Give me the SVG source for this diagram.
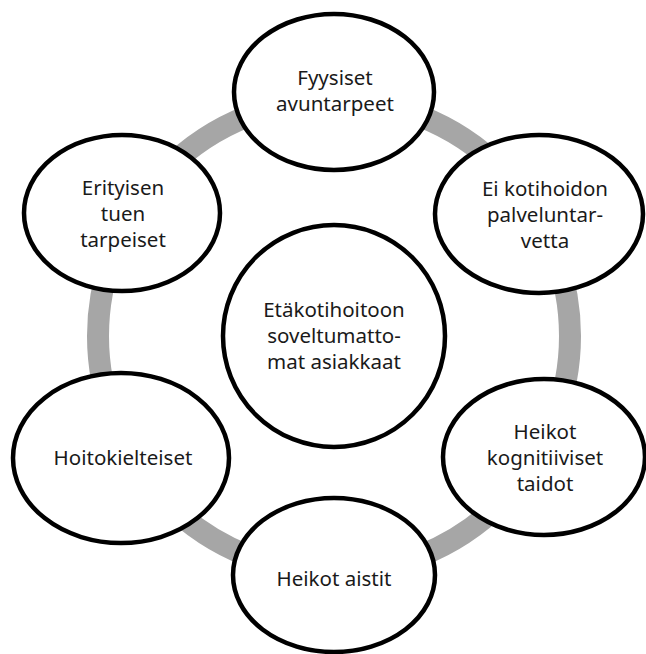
<svg xmlns="http://www.w3.org/2000/svg" width="646" height="654" viewBox="0 0 646 654">
  <style>
    .node { fill: #ffffff; stroke: #000000; stroke-width: 4.5; }
    .label { font-family: "Noto Sans", "Open Sans", "Liberation Sans", sans-serif; font-size: 20.5px; fill: #1a1a1a; text-anchor: middle; }
    .ring { fill: none; stroke: #a6a6a6; stroke-width: 22; }
  </style>

  <!-- cycle ring behind all nodes -->
  <g id="connectors">
    <circle class="ring" cx="334" cy="336" r="236"/>
  </g>

  <g id="center">
    <circle class="node" cx="334" cy="336" r="111"/>
    <text class="label" x="334" y="317">Etäkotihoitoon</text>
    <text class="label" x="334" y="343">soveltumatto-</text>
    <text class="label" x="334" y="369">mat asiakkaat</text>
  </g>

  <g id="fyysiset">
    <ellipse class="node" cx="334" cy="92" rx="100" ry="78"/>
    <text class="label" x="335" y="85">Fyysiset</text>
    <text class="label" x="335" y="111">avuntarpeet</text>
  </g>

  <g id="ei-kotihoidon">
    <ellipse class="node" cx="539" cy="214" rx="104" ry="79"/>
    <text class="label" x="545" y="196">Ei kotihoidon</text>
    <text class="label" x="545" y="222">palveluntar-</text>
    <text class="label" x="545" y="248">vetta</text>
  </g>

  <g id="kognitiiviset">
    <ellipse class="node" cx="544" cy="457" rx="101" ry="78"/>
    <text class="label" x="545" y="439">Heikot</text>
    <text class="label" x="545" y="465">kognitiiviset</text>
    <text class="label" x="545" y="491">taidot</text>
  </g>

  <g id="aistit">
    <ellipse class="node" cx="334" cy="575" rx="101" ry="77"/>
    <text class="label" x="334" y="586">Heikot aistit</text>
  </g>

  <g id="hoitokielteiset">
    <ellipse class="node" cx="121" cy="458" rx="108" ry="85"/>
    <text class="label" x="123" y="465">Hoitokielteiset</text>
  </g>

  <g id="erityisen">
    <ellipse class="node" cx="122" cy="213" rx="98" ry="78"/>
    <text class="label" x="123" y="195">Erityisen</text>
    <text class="label" x="123" y="221">tuen</text>
    <text class="label" x="123" y="247">tarpeiset</text>
  </g>
</svg>
